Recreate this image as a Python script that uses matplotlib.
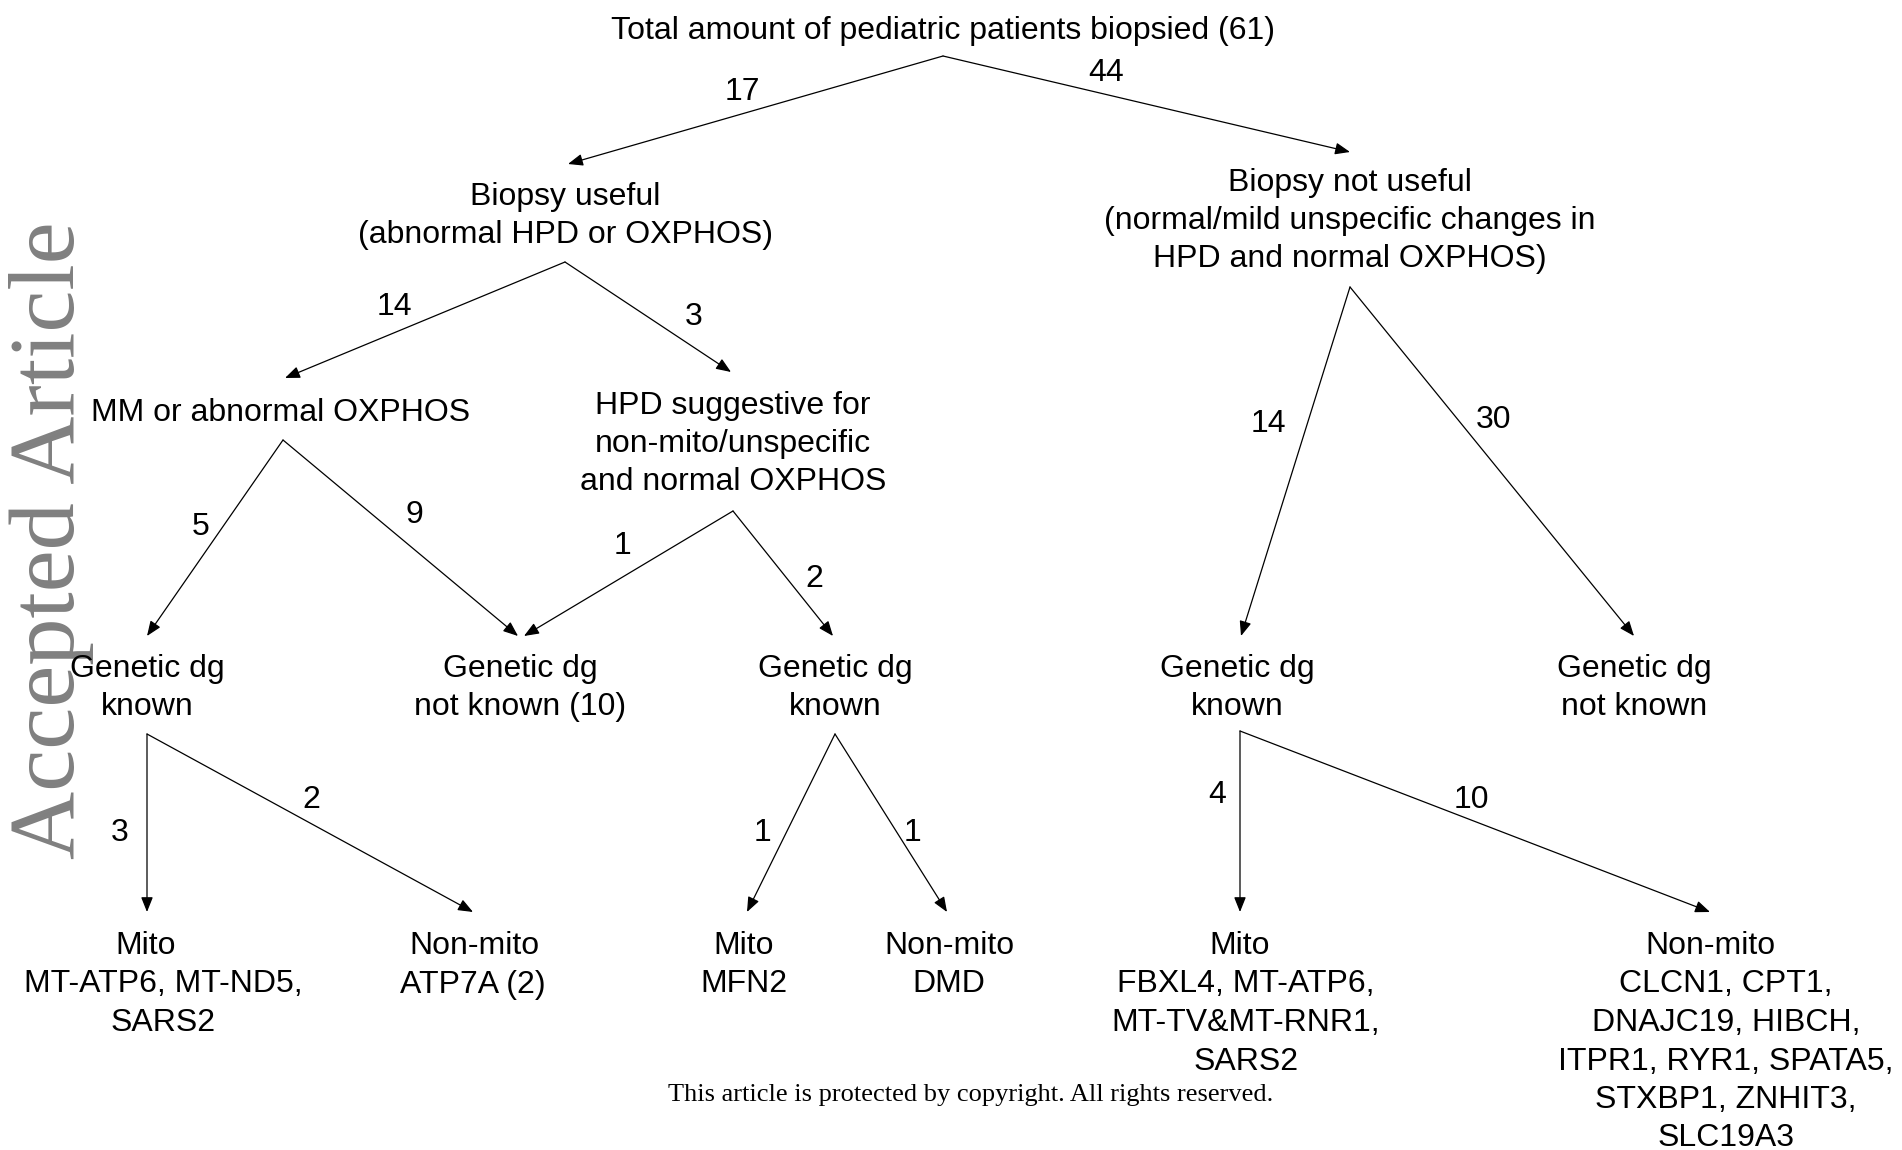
import matplotlib
matplotlib.use('Agg')
import matplotlib.pyplot as plt

# node texts (line by line)
root_lines = ['Total amount of pediatric patients biopsied (61)']
useful_lines = ['Biopsy useful', '(abnormal HPD or OXPHOS)']
notuseful_lines = ['Biopsy not useful', '(normal/mild unspecific changes in', 'HPD and normal OXPHOS)']
mm_lines = ['MM or abnormal OXPHOS']
hpd_lines = ['HPD suggestive for', 'non-mito/unspecific', 'and normal OXPHOS']
gk1_lines = ['Genetic dg', 'known']
gnk1_lines = ['Genetic dg', 'not known (10)']
gk2_lines = ['Genetic dg', 'known']
gk3_lines = ['Genetic dg', 'known']
gnk2_lines = ['Genetic dg', 'not known']
mito1_lines = ['Mito', 'MT-ATP6, MT-ND5,', 'SARS2']
nonmito1_lines = ['Non-mito', 'ATP7A (2)']
mito2_lines = ['Mito', 'MFN2']
nonmito2_lines = ['Non-mito', 'DMD']
mito3_lines = ['Mito', 'FBXL4, MT-ATP6,', 'MT-TV&MT-RNR1,', 'SARS2']
nonmito3_lines = ['Non-mito', 'CLCN1, CPT1,', 'DNAJC19, HIBCH,', 'ITPR1, RYR1, SPATA5,', 'STXBP1, ZNHIT3,', 'SLC19A3']

# edges: source, target, patient count
edge_src = ['root', 'root', 'useful', 'useful', 'mm', 'mm', 'hpd', 'hpd',
            'notuseful', 'notuseful', 'gk1', 'gk1', 'gk2', 'gk2', 'gk3', 'gk3']
edge_dst = ['useful', 'notuseful', 'mm', 'hpd', 'gk1', 'gnk1', 'gnk1', 'gk2',
            'gk3', 'gnk2', 'mito1', 'nonmito1', 'mito2', 'nonmito2', 'mito3', 'nonmito3']
edge_count = [17, 44, 14, 3, 5, 9, 1, 2, 14, 30, 3, 2, 1, 1, 4, 10]

footer = 'This article is protected by copyright. All rights reserved.'
watermark = 'Accepted Article'

# ---- layout (pixel space of the 1902x1150 figure) ----
W, H = 1902, 1150
nodes = {
    # name: (lines, x of first line, x of other lines, y of first line, line step)
    'root': (root_lines, 943, 943, 28, 38),
    'useful': (useful_lines, 565, 565, 194, 38),
    'notuseful': (notuseful_lines, 1350, 1350, 180, 38),
    'mm': (mm_lines, 281, 281, 410, 38),
    'hpd': (hpd_lines, 733, 733, 403, 38),
    'gk1': (gk1_lines, 147, 147, 666, 38),
    'gnk1': (gnk1_lines, 520, 520, 666, 38),
    'gk2': (gk2_lines, 835, 835, 666, 38),
    'gk3': (gk3_lines, 1237, 1237, 666, 38),
    'gnk2': (gnk2_lines, 1634, 1634, 666, 38),
    'mito1': (mito1_lines, 146, 163, 943, 38.5),
    'nonmito1': (nonmito1_lines, 474, 473, 943, 38.5),
    'mito2': (mito2_lines, 744, 744, 943, 38.5),
    'nonmito2': (nonmito2_lines, 949, 949, 943, 38.5),
    'mito3': (mito3_lines, 1240, 1246, 943, 38.5),
    'nonmito3': (nonmito3_lines, 1710, 1726, 943, 38.5),
}
# arrow start under source node / arrow tip above target node
out_pt = {'root': (943, 56), 'useful': (565, 262), 'notuseful': (1350, 287),
          'mm': (283, 440), 'hpd': (733, 511), 'gk1': (147, 734),
          'gk2': (835, 734), 'gk3': (1240, 731)}
in_pt = {'useful': (568, 164), 'notuseful': (1350, 152), 'mm': (285, 378),
         'hpd': (731, 372), 'gk1': (147, 636), 'gnk1': (521, 636),
         'gk2': (833, 636), 'gk3': (1241, 636), 'gnk2': (1634, 636),
         'mito1': (147, 912), 'nonmito1': (473, 912), 'mito2': (747, 912),
         'nonmito2': (947, 912), 'mito3': (1240, 912), 'nonmito3': (1710, 912)}
tip_dx = [0, 0, 0, 0, 0, -3, 3, 0, 0, 0, 0, 0, 0, 0, 0, 0]
label_xy = [(742, 89), (1106, 70), (394, 304), (694, 314), (201, 524), (414, 512),
            (622, 543), (814, 576), (1268, 421), (1494, 417), (120, 830), (311, 797),
            (762, 830), (912, 830), (1217, 792), (1471, 797)]
text_dy = 3  # va='center' sits a touch high vs. the scanned glyphs

sans = 'Liberation Sans'
fs = 23

fig = plt.figure(figsize=(W / 100, H / 100), dpi=100)
ax = fig.add_axes([0, 0, 1, 1])
ax.set_xlim(0, W)
ax.set_ylim(H, 0)
ax.axis('off')

# watermark behind everything
ax.text(74, 540, watermark, rotation=90, rotation_mode='anchor', ha='center', va='baseline',
        family='Liberation Serif', fontsize=68, color='#808080', zorder=0)

for name, (lines, x0, x1, y0, step) in nodes.items():
    for i, line in enumerate(lines):
        ax.text(x0 if i == 0 else x1, y0 + i * step + text_dy, line, ha='center', va='center',
                family=sans, fontsize=fs, color='black', zorder=3)

for k in range(len(edge_src)):
    sx, sy = out_pt[edge_src[k]]
    tx, ty = in_pt[edge_dst[k]]
    ax.annotate('', xy=(tx + tip_dx[k], ty), xytext=(sx, sy),
                arrowprops=dict(arrowstyle='-|>,head_length=0.75,head_width=0.3',
                                color='black', lw=0.9, shrinkA=0, shrinkB=0,
                                mutation_scale=12), zorder=2)
    lx, ly = label_xy[k]
    ax.text(lx, ly + text_dy, str(edge_count[k]), ha='center', va='center', family=sans,
            fontsize=fs, color='black', zorder=3)

ax.text(971, 1095, footer, ha='center', va='center', family='Liberation Serif',
        fontsize=19, color='black', zorder=3)

fig.savefig('out.png', dpi=100, facecolor='white')
